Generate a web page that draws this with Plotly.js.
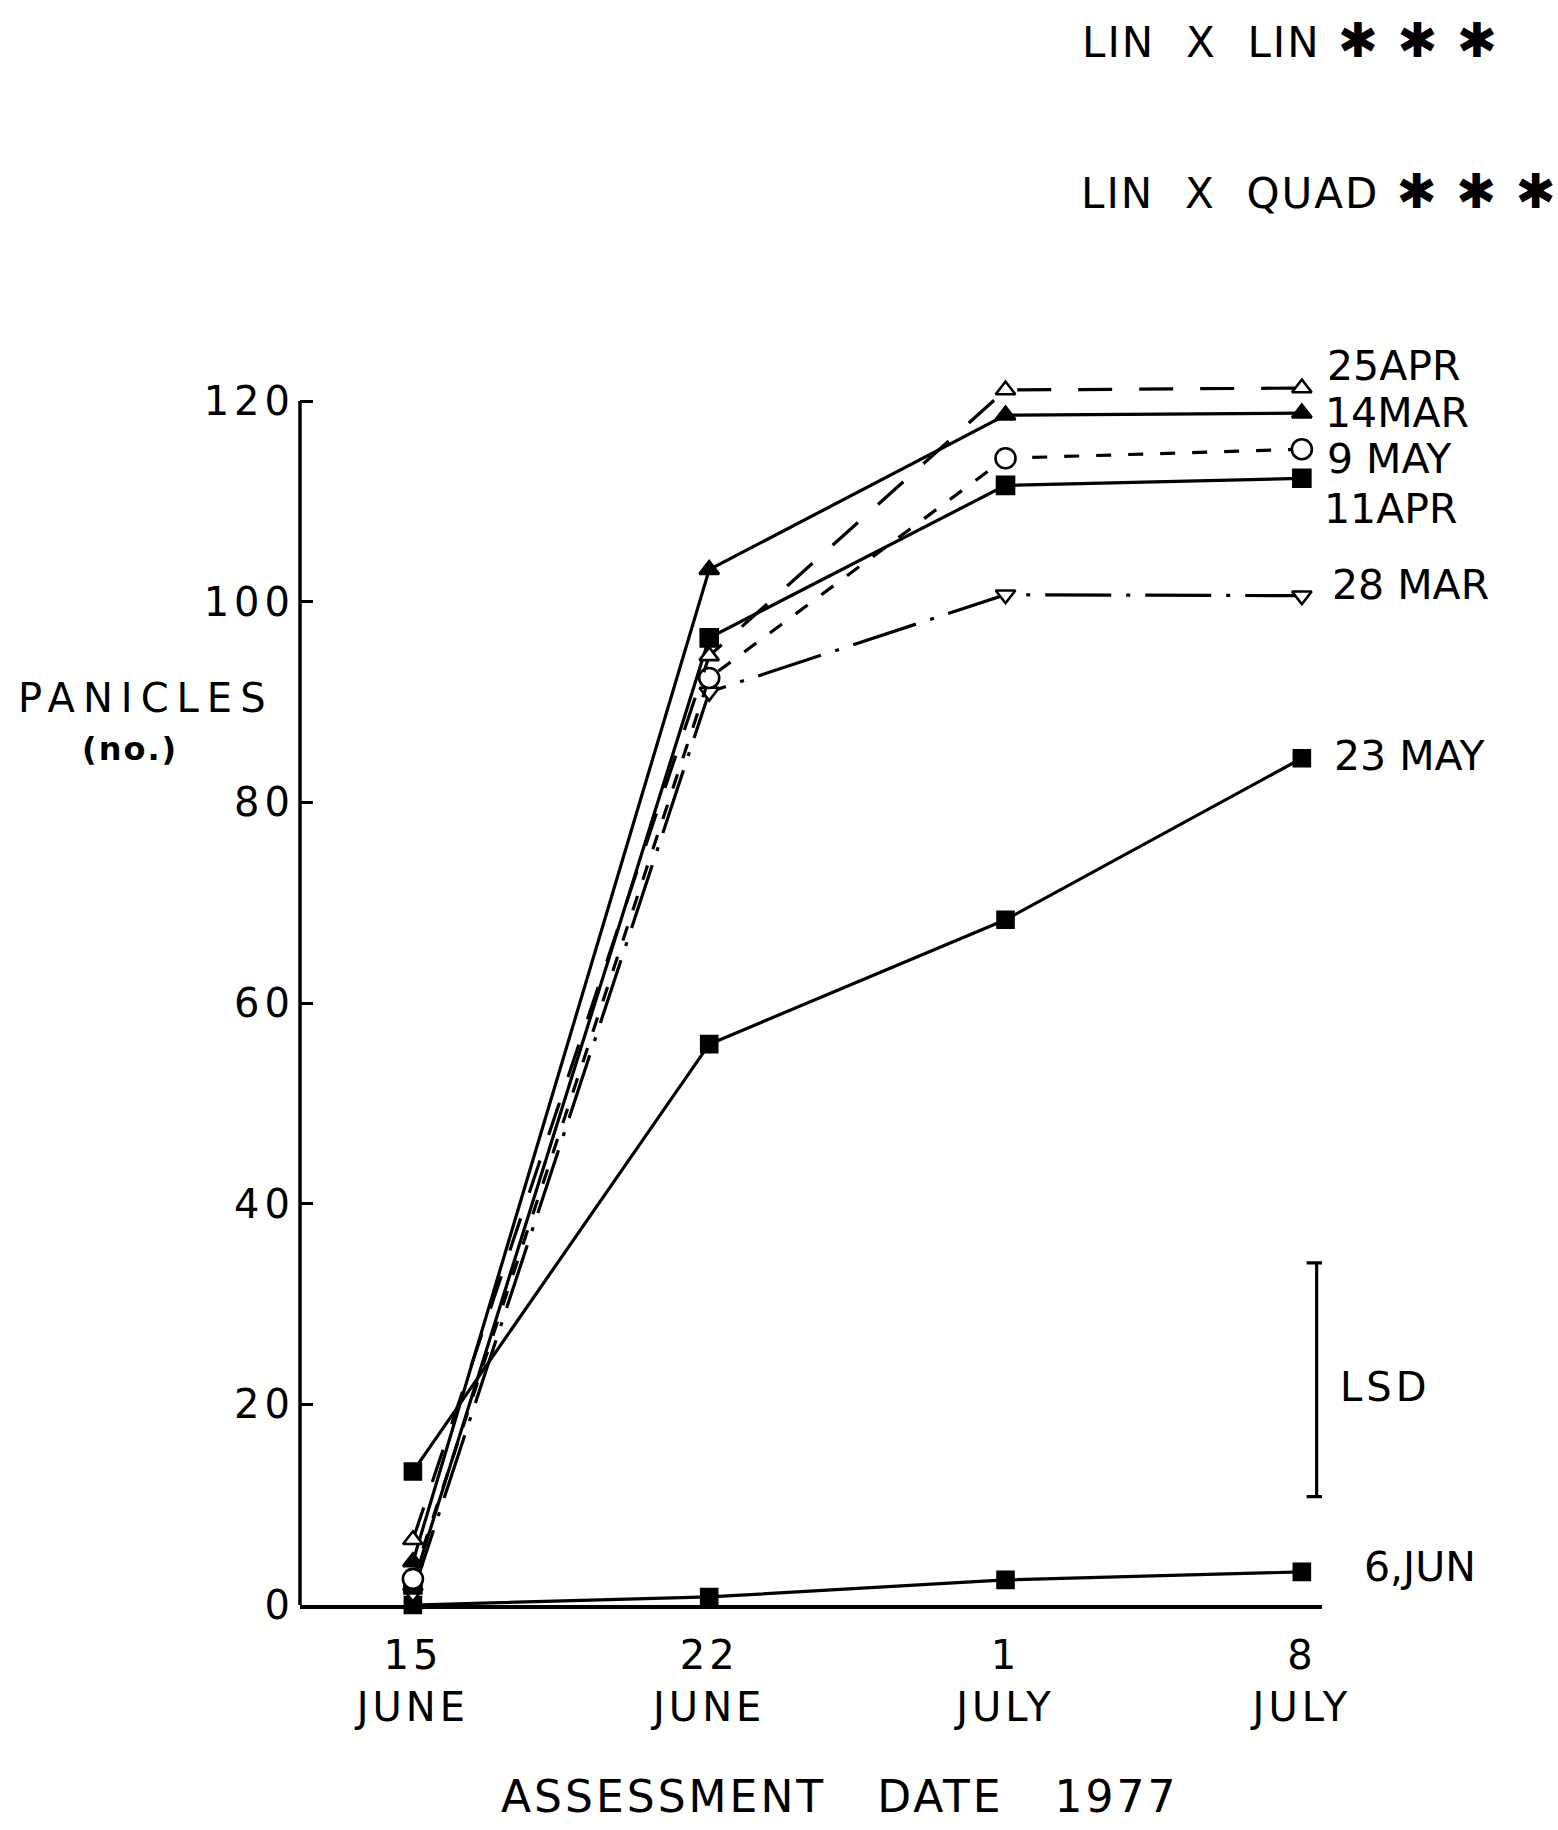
<!DOCTYPE html>
<html>
<head>
<meta charset="utf-8">
<script src="https://cdn.plot.ly/plotly-3.0.1.min.js"></script>
<style>
  html, body { margin: 0; padding: 0; background: #ffffff; }
  #chart { width: 1558px; height: 1830px; }
  .ytick text { letter-spacing: 5px; }
  .xtick text { letter-spacing: 4px; }
  .annotation[data-index="0"] text { letter-spacing: 8px; }
  .annotation[data-index="1"] text { letter-spacing: 2px; }
  .annotation[data-index="2"] text { letter-spacing: 3px; }
  .annotation[data-index="3"] text { letter-spacing: 2px; }
  .annotation[data-index="4"] text { letter-spacing: 2px; }
  .annotation[data-index="5"] text { letter-spacing: 4px; }
</style>
</head>
<body>
<div id="chart"></div>
<script>
// ---- data ----
const assessmentDates = ['15 June', '22 June', '1 July', '8 July'];
const dayLabels = ['15', '22', '1', '8'];
const monthLabels = ['JUNE', 'JUNE', 'JULY', 'JULY'];
const yTickValues = [0, 20, 40, 60, 80, 100, 120];

const sowingLabels = ['25APR', '14MAR', '9 MAY', '11APR', '28 MAR', '23 MAY', '6,JUN'];
const apr25 = [6.5, 94.6, 121.1, 121.3];
const mar14 = [4.3, 103.2, 118.6, 118.8];
const may9  = [2.6, 92.4, 114.3, 115.2];
const apr11 = [2.0, 96.4, 111.6, 112.3];
const mar28 = [1.2, 91.0, 100.7, 100.6];
const may23 = [13.3, 55.9, 68.3, 84.4];
const jun6  = [0.0, 0.8, 2.5, 3.3];

const lsdLow = 10.8;
const lsdHigh = 34.1;
const lsdPosition = 3.05;

const significanceTerms = ['LIN\u00a0\u00a0X\u00a0\u00a0LIN', 'LIN\u00a0\u00a0X\u00a0\u00a0QUAD'];
const significanceStars = '✱\u00a0✱\u00a0✱';

// ---- build chart ----
const xIdx = assessmentDates.map((d, i) => i);
const FONT = 'DejaVu Sans, Liberation Sans, sans-serif';
const TOP = 381, BOTTOM = 1605, LEFT = 300, RIGHT = 1322;
const PH = BOTTOM - TOP, PW = RIGHT - LEFT;
const px2paperX = p => (p - LEFT) / PW;
const px2paperY = p => (BOTTOM - p) / PH;

const seriesData = [jun6, may23, mar28, apr11, may9, mar14, apr25];
const seriesNames = ['6,JUN', '23 MAY', '28 MAR', '11APR', '9 MAY', '14MAR', '25APR'];
const seriesStyle = {
  '25APR':  {dash: '34px,27px', symbol: 'triangle-up', fill: '#ffffff', size: 17, lx: 23, ly: 22},
  '14MAR':  {dash: 'solid', symbol: 'triangle-up', fill: '#000000', size: 17, lx: 21, ly: 0},
  '9 MAY':  {dash: '15px,17px', symbol: 'circle', fill: '#ffffff', size: 20, lx: 23, ly: -10},
  '11APR':  {dash: 'solid', symbol: 'square', fill: '#000000', size: 17, lx: 20, ly: -31},
  '28 MAR': {dash: '66px,15px,4px,15px', symbol: 'triangle-down', fill: '#ffffff', size: 17, lx: 28, ly: 11},
  '23 MAY': {dash: 'solid', symbol: 'square', fill: '#000000', size: 16, lx: 30, ly: 2},
  '6,JUN':  {dash: 'solid', symbol: 'square', fill: '#000000', size: 16, lx: 60, ly: 5}
};

const traces = seriesData.map((vals, k) => {
  const st = seriesStyle[seriesNames[k]];
  return {
    type: 'scatter',
    mode: 'lines+markers',
    name: seriesNames[k],
    x: xIdx,
    y: vals,
    cliponaxis: false,
    line: {color: '#000000', width: 3.2, dash: st.dash},
    marker: {symbol: st.symbol, size: st.size, color: st.fill,
             line: {color: '#000000', width: 2.6}},
    hoverinfo: 'skip'
  };
});

// LSD bar
traces.push({
  type: 'scatter',
  mode: 'markers',
  x: [lsdPosition],
  y: [lsdLow],
  cliponaxis: false,
  marker: {size: 1, color: 'rgba(0,0,0,0)'},
  error_y: {type: 'data', symmetric: false, array: [lsdHigh - lsdLow], arrayminus: [0],
            color: '#000000', thickness: 3.2, width: 10},
  hoverinfo: 'skip'
});

const starSpan = '<span style="font-size:48px">\u00a0' + significanceStars + '</span>';

const annotations = [
  {text: 'PANICLES', xref: 'paper', yref: 'paper', x: px2paperX(146), y: px2paperY(698),
   xanchor: 'center', yanchor: 'middle', showarrow: false, font: {family: FONT, size: 40, color: '#000'}},
  {text: '(no.)', xref: 'paper', yref: 'paper', x: px2paperX(130), y: px2paperY(749),
   xanchor: 'center', yanchor: 'middle', showarrow: false, font: {family: FONT, size: 32, color: '#000', weight: 'bold'}},
  {text: 'ASSESSMENT\u00a0\u00a0\u00a0DATE\u00a0\u00a0\u00a01977', xref: 'paper', yref: 'paper',
   x: px2paperX(840), y: px2paperY(1797),
   xanchor: 'center', yanchor: 'middle', showarrow: false, font: {family: FONT, size: 44, color: '#000'}},
  {text: significanceTerms[0] + starSpan,
   xref: 'paper', yref: 'paper', x: px2paperX(1081), y: px2paperY(40), xshift: 16,
   xanchor: 'left', yanchor: 'middle', showarrow: false, font: {family: FONT, size: 42, color: '#000'}},
  {text: significanceTerms[1] + starSpan,
   xref: 'paper', yref: 'paper', x: px2paperX(1081), y: px2paperY(191), xshift: 16,
   xanchor: 'left', yanchor: 'middle', showarrow: false, font: {family: FONT, size: 42, color: '#000'}},
  {text: 'LSD', xref: 'x', yref: 'y', x: lsdPosition, y: (lsdLow + lsdHigh) / 2, xshift: 27, yshift: -7,
   xanchor: 'left', yanchor: 'middle', showarrow: false, font: {family: FONT, size: 40, color: '#000'}}
];

seriesData.forEach((vals, k) => {
  const st = seriesStyle[seriesNames[k]];
  annotations.push({
    text: seriesNames[k], xref: 'x', yref: 'y', x: xIdx[xIdx.length - 1], y: vals[vals.length - 1],
    xshift: st.lx, yshift: st.ly, xanchor: 'left', yanchor: 'middle', showarrow: false,
    font: {family: FONT, size: 41, color: '#000'}
  });
});

const layout = {
  width: 1558,
  height: 1830,
  paper_bgcolor: '#ffffff',
  plot_bgcolor: '#ffffff',
  showlegend: false,
  margin: {l: LEFT, r: 1558 - RIGHT, t: TOP, b: 1830 - BOTTOM, pad: 0},
  font: {family: FONT, color: '#000000'},
  xaxis: {
    type: 'linear',
    range: [-0.381, 3.068],
    showline: true, linecolor: '#000000', linewidth: 3.5,
    showgrid: false, zeroline: false,
    ticks: '',
    tickmode: 'array',
    tickvals: xIdx,
    ticktext: dayLabels.map((d, i) => d + '<br>' + monthLabels[i]),
    ticklabelstandoff: 12,
    tickfont: {family: FONT, size: 40, color: '#000'}
  },
  yaxis: {
    range: [0, 122],
    showline: false,
    showgrid: false, zeroline: false,
    ticks: 'inside', ticklen: 13, tickwidth: 3, tickcolor: '#000',
    tickmode: 'array',
    tickvals: yTickValues,
    ticktext: yTickValues.map(String),
    ticklabelstandoff: 4,
    tickfont: {family: FONT, size: 40, color: '#000'}
  },
  shapes: [
    {type: 'line', xref: 'paper', yref: 'y', x0: 0, x1: 0,
     y0: yTickValues[0], y1: yTickValues[yTickValues.length - 1],
     line: {color: '#000000', width: 3.5}}
  ],
  annotations: annotations
};

Plotly.newPlot('chart', traces, layout, {displayModeBar: false, staticPlot: true});
</script>
</body>
</html>
